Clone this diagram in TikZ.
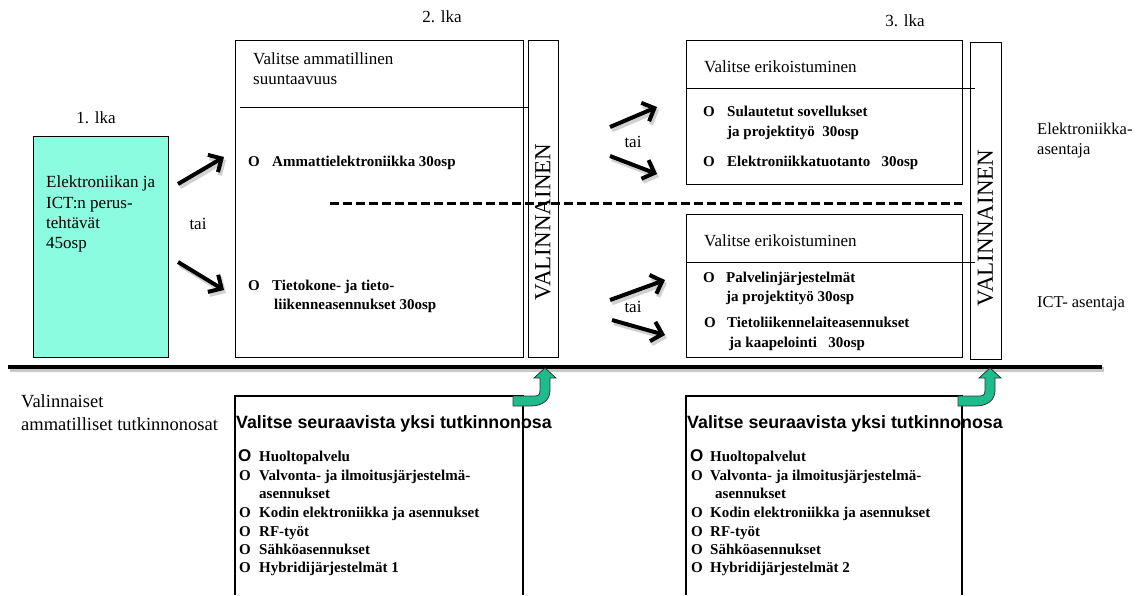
\documentclass[tikz,border=0pt]{standalone}
\usepackage{fontspec}
\setmainfont{Liberation Serif}
\setsansfont{Liberation Sans}
\usetikzlibrary{arrows.meta}
\definecolor{cyanfill}{RGB}{140,252,224}
\definecolor{arrowgreen}{RGB}{28,188,140}
\tikzset{
 boxnode/.style={draw=black, line width=1.3pt, inner sep=0pt, anchor=north west},
 txt/.style={inner sep=0pt, anchor=west, text height=12pt, text depth=4pt, font=\fontsize{17}{20}\selectfont},
 ctxt/.style={inner sep=0pt, text height=12pt, text depth=4pt, font=\fontsize{17}{20}\selectfont},
 btxt/.style={inner sep=0pt, anchor=west, text height=10.5pt, text depth=3.5pt, font=\fontsize{15}{18}\selectfont\bfseries},
 bigo/.style={inner sep=0pt, anchor=west, text height=10.5pt, text depth=3.5pt, font=\sffamily\bfseries\fontsize{17}{20}\selectfont},
 headtxt/.style={inner sep=0pt, anchor=west, text height=12.5pt, text depth=4pt, font=\sffamily\bfseries\fontsize{17.8}{20}\selectfont},
 valtxt/.style={inner sep=0pt, rotate=90, font=\fontsize{23}{26}\selectfont},
 bigarrow/.style={line width=4pt, -{Straight Barb[length=10pt,width=20pt]}},
 shadowarrow/.style={line width=4.5pt, black!18, -{Straight Barb[length=10pt,width=20pt]}},
 greenarrow/.style={fill=arrowgreen, draw=black!80, line width=0.8pt},
 sepline/.style={line width=1pt},
}
\begin{document}
\begin{tikzpicture}[x=1pt,y=-1pt]
\useasboundingbox (0,0) rectangle (1142,595);
% titles
\node[ctxt] (l1) at (96,119) {1. lka};
\node[ctxt] (l2) at (442,18) {2. lka};
\node[ctxt] (l3) at (905,22) {3. lka};
% cyan box
\node[boxnode, fill=cyanfill, minimum width=135pt, minimum height=221pt] (base) at (33,136) {};
\node[txt] (b1) at (46,183) {Elektroniikan ja};
\node[txt] (b2) at (46,204) {ICT:n perus-};
\node[txt] (b3) at (46,224) {tehtävät};
\node[txt] (b4) at (46,244) {45osp};
% box 2
\node[boxnode, minimum width=288pt, minimum height=317pt] (box2) at (235,40) {};
\node[boxnode, minimum width=30pt, minimum height=317pt] (val1) at (528,40) {};
\draw[sepline] (240,107) coordinate (h2a) -- (528,107) coordinate (h2b);
\node[txt] (s1) at (253,60) {Valitse ammatillinen};
\node[txt] (s2) at (253,80) {suuntaavuus};
\node[btxt] (o1) at (248,163) {O};
\node[btxt] (t1) at (272,163) {Ammattielektroniikka 30osp};
\node[btxt] (o2) at (248,287) {O};
\node[btxt] (t2) at (272,287) {Tietokone- ja tieto-};
\node[btxt] (t2b) at (274,306) {liikenneasennukset 30osp};
\node[valtxt] (v1) at (543,222) {VALINNAINEN};
% box 3a / 3b
\node[boxnode, minimum width=276pt, minimum height=144pt] (box3a) at (686,40) {};
\node[boxnode, minimum width=276pt, minimum height=143pt] (box3b) at (686,214) {};
\node[boxnode, minimum width=31pt, minimum height=317pt] (val2) at (970,42) {};
\draw[sepline] (686,88) coordinate (h3a) -- (975,88) coordinate (h3b);
\draw[sepline] (686,262) coordinate (h3c) -- (975,262) coordinate (h3d);
\node[txt] (e1) at (704,68) {Valitse erikoistuminen};
\node[btxt] (o3) at (703,113) {O};
\node[btxt] (t3) at (727,113) {Sulautetut sovellukset};
\node[btxt] (t3b) at (727,133) {ja projektityö~~30osp};
\node[btxt] (o4) at (703,163) {O};
\node[btxt] (t4) at (727,163) {Elektroniikkatuotanto~~~30osp};
\node[txt] (e2) at (704,242) {Valitse erikoistuminen};
\node[btxt] (o5) at (703,279) {O};
\node[btxt] (t5) at (726,279) {Palvelinjärjestelmät};
\node[btxt] (t5b) at (726,298) {ja projektityö 30osp};
\node[btxt] (o6) at (704,324) {O};
\node[btxt] (t6) at (727,324) {Tietoliikennelaiteasennukset};
\node[btxt] (t6b) at (729,344) {ja kaapelointi~~~30osp};
\node[valtxt] (v2) at (985.5,228) {VALINNAINEN};
% right labels
\node[txt, font=\fontsize{16.5}{20}\selectfont] (r1) at (1037,130) {Elektroniikka-};
\node[txt, font=\fontsize{16.5}{20}\selectfont] (r2) at (1037,150) {asentaja};
\node[txt, font=\fontsize{16.5}{20}\selectfont] (r3) at (1037,303) {ICT- asentaja};
% tai labels
\node[ctxt] (tai1) at (198,225) {tai};
\node[ctxt] (tai2) at (633,143) {tai};
\node[ctxt] (tai3) at (633,308) {tai};
% arrows
\coordinate (a1s) at (178,184); \coordinate (a1e) at (224,157);
\coordinate (a2s) at (178,262); \coordinate (a2e) at (224,290);
\coordinate (a3s) at (610,127); \coordinate (a3e) at (657,107);
\coordinate (a4s) at (610,156); \coordinate (a4e) at (657,174);
\coordinate (a5s) at (610,300); \coordinate (a5e) at (665,280);
\coordinate (a6s) at (612,320); \coordinate (a6e) at (665,335);
\foreach \s/\e in {a1s/a1e,a2s/a2e,a3s/a3e,a4s/a4e,a5s/a5e,a6s/a6e}{
  \draw[shadowarrow] ([shift={(2,3)}]\s) -- ([shift={(2,3)}]\e);
}
\draw[bigarrow] (a1s) -- (a1e);
\draw[bigarrow] (a2s) -- (a2e);
\draw[bigarrow] (a3s) -- (a3e);
\draw[bigarrow] (a4s) -- (a4e);
\draw[bigarrow] (a5s) -- (a5e);
\draw[bigarrow] (a6s) -- (a6e);
% dashed separator
\coordinate (d1) at (330,203); \coordinate (d2) at (962,203);
\draw[line width=3pt, dash pattern=on 9pt off 4pt] (d1) -- (d2);
% thick line
\coordinate (m1) at (8,367); \coordinate (m2) at (1102,367);
\draw[line width=5pt, black!22] ([shift={(1.5,2.5)}]m1) -- ([shift={(1.5,2.5)}]m2);
\draw[line width=4pt] (m1) -- (m2);
% left bottom label
\node[txt, text height=13pt, font=\fontsize{18.5}{22}\selectfont] (vl1) at (21,403) {Valinnaiset};
\node[txt, text height=13pt, font=\fontsize{18.5}{22}\selectfont] (vl2) at (21,426) {ammatilliset tutkinnonosat};
% bottom boxes
\draw[line width=1.3pt] (235,595) -- (235,396) -- (523,396) -- (523,595);
\draw[line width=1.3pt] (686,595) -- (686,396) -- (962,396) -- (962,595);
% green arrows
\draw[greenarrow] (513,396) -- (535,396) .. controls (539,396) and (540,394) .. (540,390) -- (540,378) -- (534,378) -- (545,368) -- (556,378) -- (550,378) -- (550,390) .. controls (550,400) and (543,406) .. (530,406) -- (513,406) -- cycle;
\draw[greenarrow] (958,396) -- (980,396) .. controls (984,396) and (985,394) .. (985,390) -- (985,378) -- (979,378) -- (990,368) -- (1001,378) -- (995,378) -- (995,390) .. controls (995,400) and (988,406) .. (975,406) -- (958,406) -- cycle;
% bottom headings
\node[headtxt] (hd1) at (236,424) {Valitse seuraavista yksi tutkinnonosa};
\node[headtxt] (hd2) at (687,424) {Valitse seuraavista yksi tutkinnonosa};
% list 1
\node[bigo] (p1o1) at (238,458) {O};
\node[btxt] (p1t1) at (259,458) {Huoltopalvelu};
\node[btxt] (p1o2) at (239,477) {O};
\node[btxt] (p1t2) at (259,477) {Valvonta- ja ilmoitusjärjestelmä-};
\node[btxt] (p1t2b) at (259,495) {asennukset};
\node[btxt] (p1o3) at (239,514) {O};
\node[btxt] (p1t3) at (259,514) {Kodin elektroniikka ja asennukset};
\node[btxt] (p1o4) at (239,533) {O};
\node[btxt] (p1t4) at (259,533) {RF-työt};
\node[btxt] (p1o5) at (239,551) {O};
\node[btxt] (p1t5) at (259,551) {Sähköasennukset};
\node[btxt] (p1o6) at (239,569) {O};
\node[btxt] (p1t6) at (259,569) {Hybridijärjestelmät 1};
% list 2
\node[bigo] (p2o1) at (690,458) {O};
\node[btxt] (p2t1) at (710,458) {Huoltopalvelut};
\node[btxt] (p2o2) at (691,477) {O};
\node[btxt] (p2t2) at (710,477) {Valvonta- ja ilmoitusjärjestelmä-};
\node[btxt] (p2t2b) at (715,495) {asennukset};
\node[btxt] (p2o3) at (691,514) {O};
\node[btxt] (p2t3) at (710,514) {Kodin elektroniikka ja asennukset};
\node[btxt] (p2o4) at (691,533) {O};
\node[btxt] (p2t4) at (710,533) {RF-työt};
\node[btxt] (p2o5) at (691,551) {O};
\node[btxt] (p2t5) at (710,551) {Sähköasennukset};
\node[btxt] (p2o6) at (691,569) {O};
\node[btxt] (p2t6) at (710,569) {Hybridijärjestelmät 2};
\end{tikzpicture}
\end{document}
